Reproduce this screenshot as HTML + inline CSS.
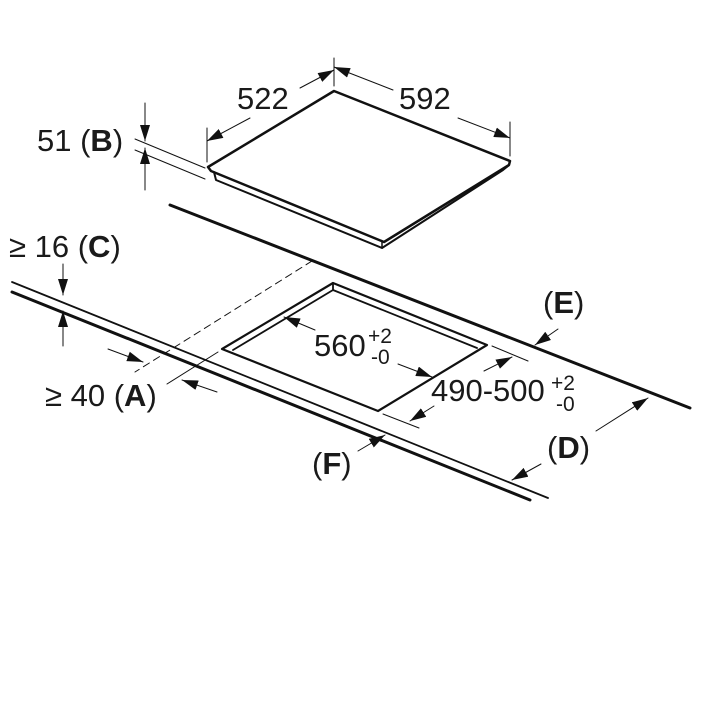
<!DOCTYPE html>
<html><head><meta charset="utf-8"><style>
html,body{margin:0;padding:0;background:#fff;width:720px;height:720px;overflow:hidden}
text{font-family:"Liberation Sans",sans-serif;fill:#1a1a1a}
</style></head><body>
<svg width="720" height="720" viewBox="0 0 720 720" xmlns="http://www.w3.org/2000/svg">
<defs>
<marker id="ah" viewBox="0 0 16 10" refX="16" refY="5" markerWidth="16" markerHeight="10" markerUnits="userSpaceOnUse" orient="auto">
<path d="M0,0 L16,5 L0,10 Z" fill="#111"/></marker>
</defs>
<g stroke="#111" fill="none" stroke-linecap="round" stroke-linejoin="round">
<path d="M208,167 L334,91 L510,161 L509,165 L384,242 L211,171 Z" stroke-width="2.5"/>
<path d="M214,172 L216,180 L382,248 L503,170 L508,166" stroke-width="2"/>
<path d="M382,242 L382,248" stroke-width="1.5"/>
<g stroke-width="1">
<line x1="207" y1="128" x2="207" y2="162"/>
<line x1="334" y1="58" x2="334" y2="86"/>
<line x1="510" y1="122" x2="510" y2="156"/>
<line x1="250" y1="118" x2="207" y2="141" marker-end="url(#ah)"/>
<line x1="300" y1="88" x2="334" y2="70" marker-end="url(#ah)"/>
<line x1="393" y1="90" x2="334" y2="67" marker-end="url(#ah)"/>
<line x1="458" y1="118" x2="510" y2="138" marker-end="url(#ah)"/>
<line x1="135" y1="139" x2="205" y2="168"/>
<line x1="135" y1="150" x2="205" y2="179"/>
<line x1="145" y1="103" x2="145" y2="141" marker-end="url(#ah)"/>
<line x1="145" y1="190" x2="145" y2="148" marker-end="url(#ah)"/>
</g>
<line x1="170" y1="205" x2="690" y2="408" stroke-width="3"/>
<line x1="12" y1="282" x2="548" y2="498" stroke-width="1.8"/>
<line x1="12" y1="292" x2="530" y2="500" stroke-width="3"/>
<path d="M333,283 L487,345 L378,411 L222,349 Z" stroke-width="2.2"/>
<path d="M233,350 L333,290 L477,348 M333,283 L333,290" stroke-width="1.8"/>
<line x1="312" y1="261" x2="135" y2="372" stroke-width="1" stroke-dasharray="7,5"/>
<line x1="218" y1="352" x2="167" y2="384" stroke-width="1"/>
<g stroke-width="1">
<line x1="63" y1="264" x2="63" y2="295" marker-end="url(#ah)"/>
<line x1="63" y1="346" x2="63" y2="311" marker-end="url(#ah)"/>
<line x1="108" y1="349" x2="143" y2="362" marker-end="url(#ah)"/>
<line x1="217" y1="392" x2="182" y2="380" marker-end="url(#ah)"/>
<line x1="315" y1="330" x2="284" y2="317" marker-end="url(#ah)"/>
<line x1="398" y1="364" x2="432" y2="377" marker-end="url(#ah)"/>
<line x1="492" y1="346" x2="528" y2="361"/>
<line x1="383" y1="414" x2="419" y2="428"/>
<line x1="484" y1="371" x2="512" y2="357" marker-end="url(#ah)"/>
<line x1="434" y1="406" x2="410" y2="421" marker-end="url(#ah)"/>
<line x1="558" y1="329" x2="535" y2="345" marker-end="url(#ah)"/>
<line x1="596" y1="431" x2="648" y2="398" marker-end="url(#ah)"/>
<line x1="541" y1="464" x2="512" y2="480" marker-end="url(#ah)"/>
<line x1="358" y1="451" x2="385" y2="435" marker-end="url(#ah)"/>
</g>
</g>
<g font-size="31">
<text x="237" y="109">522</text>
<text x="399" y="109">592</text>
<text x="37" y="151">51 (<tspan font-weight="bold">B</tspan>)</text>
<text x="9" y="257">≥ 16 (<tspan font-weight="bold">C</tspan>)</text>
<text x="45" y="406">≥ 40 (<tspan font-weight="bold">A</tspan>)</text>
<text x="314" y="356">560</text>
<text x="368" y="343" font-size="21">+2</text>
<text x="371" y="364" font-size="21">-0</text>
<text x="431" y="401">490-500</text>
<text x="551" y="390" font-size="21">+2</text>
<text x="556" y="411" font-size="21">-0</text>
<text x="543" y="313">(<tspan font-weight="bold">E</tspan>)</text>
<text x="547" y="458">(<tspan font-weight="bold">D</tspan>)</text>
<text x="312" y="474">(<tspan font-weight="bold">F</tspan>)</text>
</g>
</svg>
</body></html>
